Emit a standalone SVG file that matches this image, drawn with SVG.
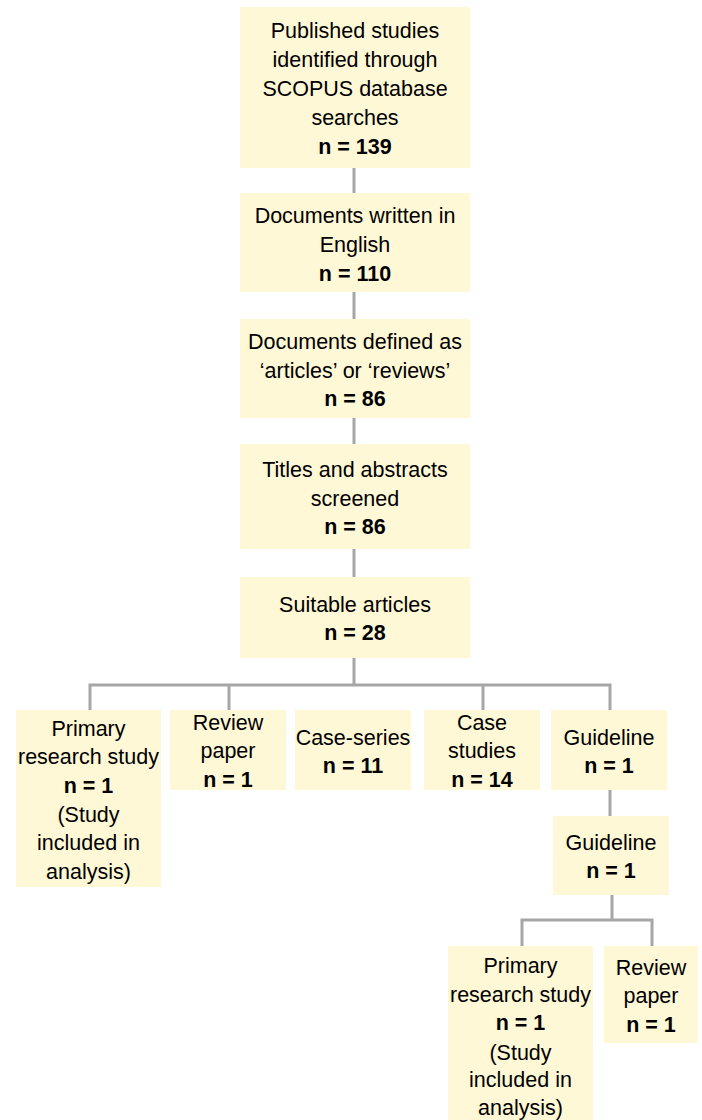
<svg xmlns="http://www.w3.org/2000/svg" width="702" height="1120" viewBox="0 0 702 1120">
<style>
.box{fill:#FFF8D6;}
.t{font-family:"Liberation Sans",Arial,sans-serif;font-size:21.5px;fill:#000;text-anchor:middle;}
.b{font-weight:bold;}
.c{fill:none;stroke:#A6A6A6;stroke-width:3;}
</style>
<rect width="702" height="1120" fill="#FFFFFF"/>
<g id="connectors">
<path class="c" d="M354,168V193 M354,292V319 M354,418V444 M354,549V577 M354,658V685"/>
<path class="c" d="M90,710V685H610V710 M229,685V710 M483,685V710"/>
<path class="c" d="M610,790V816"/>
<path class="c" d="M612,895V920 M522,946V920H652V946"/>
</g>
<g id="n1">
<rect class="box" x="240" y="7" width="230" height="161"/>
<text class="t" x="355" y="38">Published studies</text>
<text class="t" x="355" y="67">identified through</text>
<text class="t" x="355" y="96">SCOPUS database</text>
<text class="t" x="355" y="125">searches</text>
<text class="t b" x="355" y="154">n = 139</text>
</g>
<g id="n2">
<rect class="box" x="240" y="193" width="230" height="99"/>
<text class="t" x="355" y="223">Documents written in</text>
<text class="t" x="355" y="252">English</text>
<text class="t b" x="355" y="281">n = 110</text>
</g>
<g id="n3">
<rect class="box" x="240" y="319" width="230" height="99"/>
<text class="t" x="355" y="349">Documents defined as</text>
<text class="t" x="355" y="378">‘articles’ or ‘reviews’</text>
<text class="t b" x="355" y="406">n = 86</text>
</g>
<g id="n4">
<rect class="box" x="240" y="444" width="230" height="105"/>
<text class="t" x="355" y="477">Titles and abstracts</text>
<text class="t" x="355" y="506">screened</text>
<text class="t b" x="355" y="534">n = 86</text>
</g>
<g id="n5">
<rect class="box" x="240" y="577" width="230" height="81"/>
<text class="t" x="355" y="612">Suitable articles</text>
<text class="t b" x="355" y="640">n = 28</text>
</g>
<g id="n6">
<rect class="box" x="16" y="710" width="145" height="177"/>
<text class="t" x="88.5" y="736">Primary</text>
<text class="t" x="88.5" y="764">research study</text>
<text class="t b" x="88.5" y="793">n = 1</text>
<text class="t" x="88.5" y="822">(Study</text>
<text class="t" x="88.5" y="850">included in</text>
<text class="t" x="88.5" y="879">analysis)</text>
</g>
<g id="n7">
<rect class="box" x="170" y="710" width="116" height="80"/>
<text class="t" x="228" y="730">Review</text>
<text class="t" x="228" y="758">paper</text>
<text class="t b" x="228" y="787">n = 1</text>
</g>
<g id="n8">
<rect class="box" x="295" y="710" width="116" height="80"/>
<text class="t" x="353" y="745">Case-series</text>
<text class="t b" x="353" y="773">n = 11</text>
</g>
<g id="n9">
<rect class="box" x="424" y="710" width="116" height="80"/>
<text class="t" x="482" y="730">Case</text>
<text class="t" x="482" y="758">studies</text>
<text class="t b" x="482" y="787">n = 14</text>
</g>
<g id="n10">
<rect class="box" x="551" y="710" width="116" height="80"/>
<text class="t" x="609" y="745">Guideline</text>
<text class="t b" x="609" y="773">n = 1</text>
</g>
<g id="n11">
<rect class="box" x="553" y="816" width="116" height="79"/>
<text class="t" x="611" y="850">Guideline</text>
<text class="t b" x="611" y="878">n = 1</text>
</g>
<g id="n12">
<rect class="box" x="448" y="946" width="145" height="174"/>
<text class="t" x="520.5" y="973">Primary</text>
<text class="t" x="520.5" y="1002">research study</text>
<text class="t b" x="520.5" y="1030">n = 1</text>
<text class="t" x="520.5" y="1060">(Study</text>
<text class="t" x="520.5" y="1087">included in</text>
<text class="t" x="520.5" y="1115">analysis)</text>
</g>
<g id="n13">
<rect class="box" x="604" y="946" width="94" height="97"/>
<text class="t" x="651" y="975">Review</text>
<text class="t" x="651" y="1003">paper</text>
<text class="t b" x="651" y="1032">n = 1</text>
</g>
</svg>
